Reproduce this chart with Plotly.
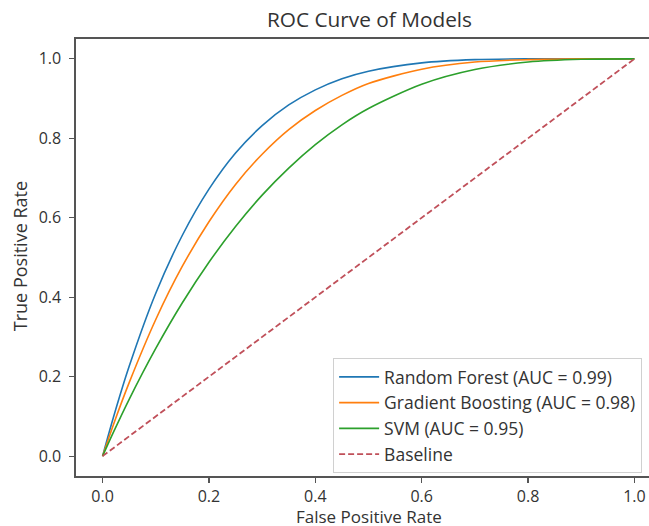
import plotly.graph_objects as go

# values
fpr = [0, 0.02, 0.05, 0.1, 0.15, 0.2, 0.25, 0.3, 0.35, 0.4, 0.45, 0.5, 0.6, 0.7, 0.8, 0.9, 1.0]
tpr_rf = [0, 0.096, 0.226, 0.41, 0.556, 0.672, 0.763, 0.832, 0.884, 0.922, 0.95, 0.969, 0.99, 0.998, 1.0, 1.0, 1.0]
tpr_gb = [0, 0.078, 0.185, 0.344, 0.478, 0.590, 0.684, 0.760, 0.822, 0.870, 0.908, 0.938, 0.974, 0.992, 0.998, 1.0, 1.0]
tpr_svm = [0, 0.059, 0.143, 0.271, 0.386, 0.488, 0.578, 0.657, 0.725, 0.784, 0.834, 0.875, 0.936, 0.973, 0.992, 0.999, 1.0]
base_x = [0, 1]
base_y = [0, 1]
names = ["Random Forest (AUC = 0.99)", "Gradient Boosting (AUC = 0.98)", "SVM (AUC = 0.95)", "Baseline"]
ticks = [0.0, 0.2, 0.4, 0.6, 0.8, 1.0]
tick_text = ["0.0", "0.2", "0.4", "0.6", "0.8", "1.0"]

FONT = "Open Sans"
TXT = "#333333"

fig = go.Figure()
for y, name, col in [(tpr_rf, names[0], "#1f77b4"), (tpr_gb, names[1], "#ff7f0e"), (tpr_svm, names[2], "#2ca02c")]:
    fig.add_trace(go.Scatter(x=fpr, y=y, mode="lines", name=name,
                             line=dict(color=col, width=1.6, shape="spline", smoothing=0.8)))
fig.add_trace(go.Scatter(x=base_x, y=base_y, mode="lines", name=names[3],
                         line=dict(color="#c0505a", width=1.8, dash="6px,3px")))

# page margin removed by post_script, so the figure starts at (0, 0) of the window;
# the axes box runs past the right edge of the window (cropped, as in the reference)
H = 526
L, T = 76, 39
B = H - 476
W = 663                    # right spine position (outside the window)
R = 0
pw = W - L - R
ph = H - T - B
cx = 369.5                 # centre of the axes box

fig.update_layout(
    width=W, height=H,
    margin=dict(l=L, r=R, t=T, b=B, pad=0),
    paper_bgcolor="white", plot_bgcolor="white",
    font=dict(family=FONT, color=TXT, size=16),
    hovermode=False,
    showlegend=True,
    legend=dict(x=(334 - L) / pw, y=(H - B - 358) / ph, xanchor="left", yanchor="top",
                bgcolor="rgba(255,255,255,0.85)", bordercolor="#d0d0d0", borderwidth=1,
                itemwidth=40,
                font=dict(family=FONT, size=17.5, color=TXT), tracegroupgap=0),
    xaxis=dict(range=[-0.05, 1.05], tickvals=ticks, ticktext=tick_text, showgrid=False, zeroline=False,
               showline=True, linecolor="#555555", linewidth=1.6, mirror=True,
               ticks="outside", ticklen=5, tickwidth=1.2, tickcolor="#555555",
               tickfont=dict(family=FONT, size=16, color=TXT)),
    yaxis=dict(range=[-0.05, 1.05], tickvals=ticks, ticktext=tick_text, showgrid=False, zeroline=False,
               showline=True, linecolor="#555555", linewidth=1.6, mirror=True,
               ticks="outside", ticklen=5, tickwidth=1.2, tickcolor="#555555",
               ticklabelstandoff=5,
               tickfont=dict(family=FONT, size=16, color=TXT)),
    title=dict(text="ROC Curve of Models", x=cx / W, xanchor="center",
               y=1 - 20 / H, yanchor="middle", yref="container", xref="container",
               font=dict(family=FONT, size=20.8, color=TXT)),
    annotations=[
        dict(text="False Positive Rate", xref="paper", yref="paper",
             x=(cx - L) / pw, y=-(516.5 - (H - B)) / ph, xanchor="center", yanchor="middle",
             showarrow=False, font=dict(family=FONT, size=17, color=TXT)),
        dict(text="True Positive Rate", xref="paper", yref="paper", textangle=-90,
             x=-(L - 20) / pw, y=(H - B - 256) / ph, xanchor="center", yanchor="middle",
             showarrow=False, font=dict(family=FONT, size=18, color=TXT)),
    ],
)

fig.write_html(
    "out.html",
    config={"displayModeBar": False, "staticPlot": True},
    post_script="document.documentElement.style.overflow='hidden';document.body.style.margin='0';",
)
